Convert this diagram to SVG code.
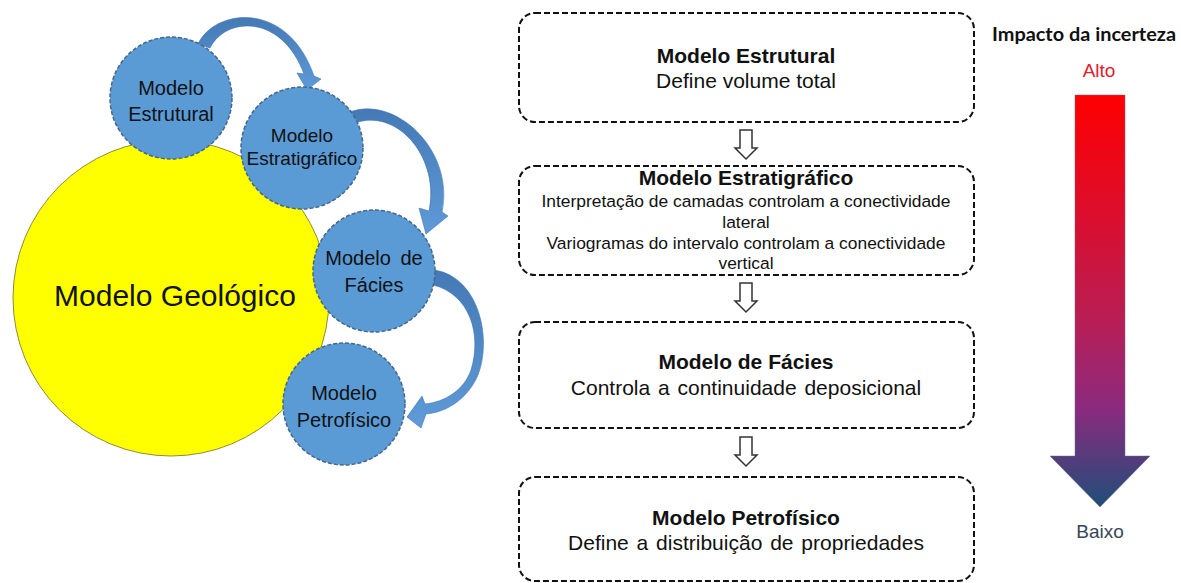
<svg xmlns="http://www.w3.org/2000/svg" width="1181" height="583" viewBox="0 0 1181 583">
<defs>
<style>
.t{font-family:"Liberation Sans",Arial,sans-serif;fill:#111;text-anchor:middle}
.ct{font-size:20px}
.bt{font-size:21px;font-weight:bold}
.bs{font-size:21px}
.sm{font-size:17.4px}
.bub{fill:#5B9BD5;stroke:#44668A;stroke-width:1.5;stroke-dasharray:4 2}
.box{fill:#fff;stroke:#111;stroke-width:2;stroke-dasharray:6 3}
.harr{fill:#fff;stroke:#333;stroke-width:1.5;stroke-linejoin:miter}
.carr{fill:url(#cg);stroke:#4275AE;stroke-width:0.6}
</style>
<linearGradient id="rg" x1="0" y1="95" x2="0" y2="507" gradientUnits="userSpaceOnUse">
<stop offset="0" stop-color="#FF0000"/>
<stop offset="0.3" stop-color="#DA0E2E"/>
<stop offset="0.55" stop-color="#B81E55"/>
<stop offset="0.76" stop-color="#8B2A7E"/>
<stop offset="1" stop-color="#1F4E79"/>
</linearGradient>
<linearGradient id="cg" x1="0" y1="0" x2="0" y2="1">
<stop offset="0" stop-color="#4479B5"/>
<stop offset="1" stop-color="#5E9BD8"/>
</linearGradient>
</defs>
<rect width="1181" height="583" fill="#fff"/>

<g id="geologico">
<circle cx="171" cy="298" r="158" fill="#FFFF00" stroke="#8C8C3C" stroke-width="1"/>
<text class="t" x="175" y="306" style="font-size:30px">Modelo Geológico</text>
</g>

<g id="connectors">
<path class="carr" d="M198 44 C215 8,288 0,314 76 L321 79 L307 90 L297 73 L304 74 C282 14,226 16,210 48 Z"/>
<path class="carr" d="M350 112 C395 95,455 150,442 212 L448 216 L426 234 L419 208 L429 211 C440 160,400 110,358 122 Z"/>
<path class="carr" d="M435 270 C480 278,492 340,478 375 C468 398,448 412,426 414 L421 428 L407 417 L422 396 L425 404 C445 402,464 390,471 370 C482 335,470 294,433 285 Z"/>
<path class="harr" d="M740 130 H752 V148 H757 L746 159 L735 148 H740 Z"/>
<path class="harr" d="M740 283 H752 V301 H757 L746 312 L735 301 H740 Z"/>
<path class="harr" d="M740 437 H752 V455 H757 L746 466 L735 455 H740 Z"/>
</g>

<g id="c-estrutural">
<circle class="bub" cx="171" cy="98" r="61"/>
<text class="t ct" x="171" y="95">Modelo</text>
<text class="t ct" x="171" y="121">Estrutural</text>
</g>
<g id="c-estratigrafico">
<circle class="bub" cx="302" cy="148" r="61"/>
<text class="t" x="302" y="142" style="font-size:19px">Modelo</text>
<text class="t" x="302" y="165" style="font-size:19px">Estratigráfico</text>
</g>
<g id="c-facies">
<circle class="bub" cx="374" cy="271" r="61"/>
<text class="t ct" x="374" y="265" style="word-spacing:4px">Modelo de</text>
<text class="t ct" x="374" y="292">Fácies</text>
</g>
<g id="c-petrofisico">
<circle class="bub" cx="344" cy="404" r="61"/>
<text class="t ct" x="344" y="400">Modelo</text>
<text class="t ct" x="344" y="427">Petrofísico</text>
</g>

<g id="b-estrutural">
<rect class="box" x="519" y="13" width="455" height="109" rx="16"/>
<text class="t bt" x="746" y="63">Modelo Estrutural</text>
<text class="t bs" x="746" y="88">Define volume total</text>
</g>
<g id="b-estratigrafico">
<rect class="box" x="519" y="166" width="455" height="109" rx="16"/>
<text class="t bt" x="746" y="185">Modelo Estratigráfico</text>
<text class="t sm" x="746" y="207">Interpretação de camadas controlam a conectividade</text>
<text class="t sm" x="746" y="228">lateral</text>
<text class="t sm" x="746" y="249">Variogramas do intervalo controlam a conectividade</text>
<text class="t sm" x="746" y="269">vertical</text>
</g>
<g id="b-facies">
<rect class="box" x="519" y="322" width="455" height="106" rx="16"/>
<text class="t bt" x="746" y="369">Modelo de Fácies</text>
<text class="t bs" x="746" y="395" style="word-spacing:2px">Controla a continuidade deposicional</text>
</g>
<g id="b-petrofisico">
<rect class="box" x="519" y="477" width="455" height="104" rx="16"/>
<text class="t bt" x="746" y="525">Modelo Petrofísico</text>
<text class="t bs" x="746" y="550" style="word-spacing:2px">Define a distribuição de propriedades</text>
</g>

<g id="impacto">
<text x="992" y="41" style="font-family:Lato,'Open Sans',sans-serif;font-weight:bold;font-size:18px;fill:#111" textLength="184" lengthAdjust="spacingAndGlyphs">Impacto da incerteza</text>
<text class="t" x="1099" y="77" style="font-size:19px;fill:#E0202A">Alto</text>
<path d="M1075 95 H1125 V456 H1150 L1100 507 L1050 456 H1075 Z" fill="url(#rg)" stroke="#6E6A8A" stroke-width="0.8" stroke-opacity="0.6"/>
<text class="t" x="1100" y="538" style="font-size:19px;fill:#36465A">Baixo</text>
</g>
</svg>
